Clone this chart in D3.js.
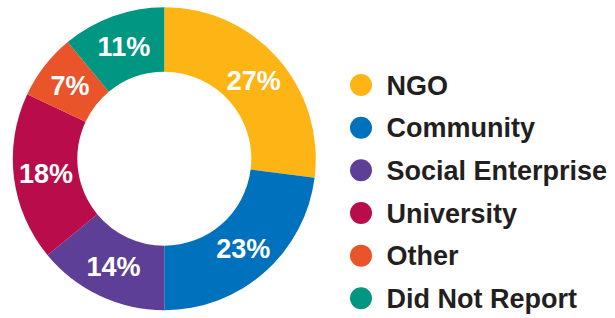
<!DOCTYPE html>
<html><head><meta charset="utf-8">
<script src="https://cdn.jsdelivr.net/npm/d3@7"></script>
<style>html,body{margin:0;padding:0;background:#fff;}svg{display:block;}</style>
</head><body>
<svg id="chart" width="615" height="318"></svg>
<script>
const categories = ["NGO", "Community", "Social Enterprise", "University", "Other", "Did Not Report"];
const values = [27, 23, 14, 18, 7, 11];
const colors = ["#FDB515", "#0071BC", "#5E3F98", "#B80D4A", "#E9542A", "#009681"];

const svg = d3.select("#chart");
const cx = 164.3, cy = 158.7, outerR = 151.5, innerR = 87;

const color = d3.scaleOrdinal().domain(categories).range(colors);
const data = categories.map((c, i) => ({ cat: c, value: values[i] }));
const pie = d3.pie().value(d => d.value).sort(null);
const arc = d3.arc().innerRadius(innerR).outerRadius(outerR);
const labelArc = d3.arc().innerRadius((innerR + outerR) / 2).outerRadius((innerR + outerR) / 2);

const g = svg.append("g").attr("transform", `translate(${cx},${cy})`);
const arcs = pie(data);
g.selectAll("path").data(arcs).join("path")
  .attr("d", arc).attr("fill", d => color(d.data.cat));

g.selectAll("text").data(arcs).join("text")
  .attr("transform", d => `translate(${labelArc.centroid(d)})`)
  .attr("dy", "0.36em")
  .attr("text-anchor", "middle")
  .attr("fill", "#fff")
  .attr("font-family", "'Liberation Sans', Arial, sans-serif")
  .attr("font-weight", "bold")
  .attr("font-size", 27)
  .text(d => d.data.value + "%");

const legendY = d3.scalePoint().domain(categories).range([85, 298.3]);
const lg = svg.append("g");
const rows = lg.selectAll("g").data(categories).join("g")
  .attr("transform", d => `translate(361,${legendY(d)})`);
rows.append("circle").attr("r", 11).attr("fill", d => color(d));
rows.append("text")
  .attr("x", 25.5).attr("dy", "0.36em")
  .attr("fill", "#231F20")
  .attr("font-family", "'Liberation Sans', Arial, sans-serif")
  .attr("font-weight", "bold")
  .attr("font-size", 27)
  .text(d => d);
</script>
</body></html>
